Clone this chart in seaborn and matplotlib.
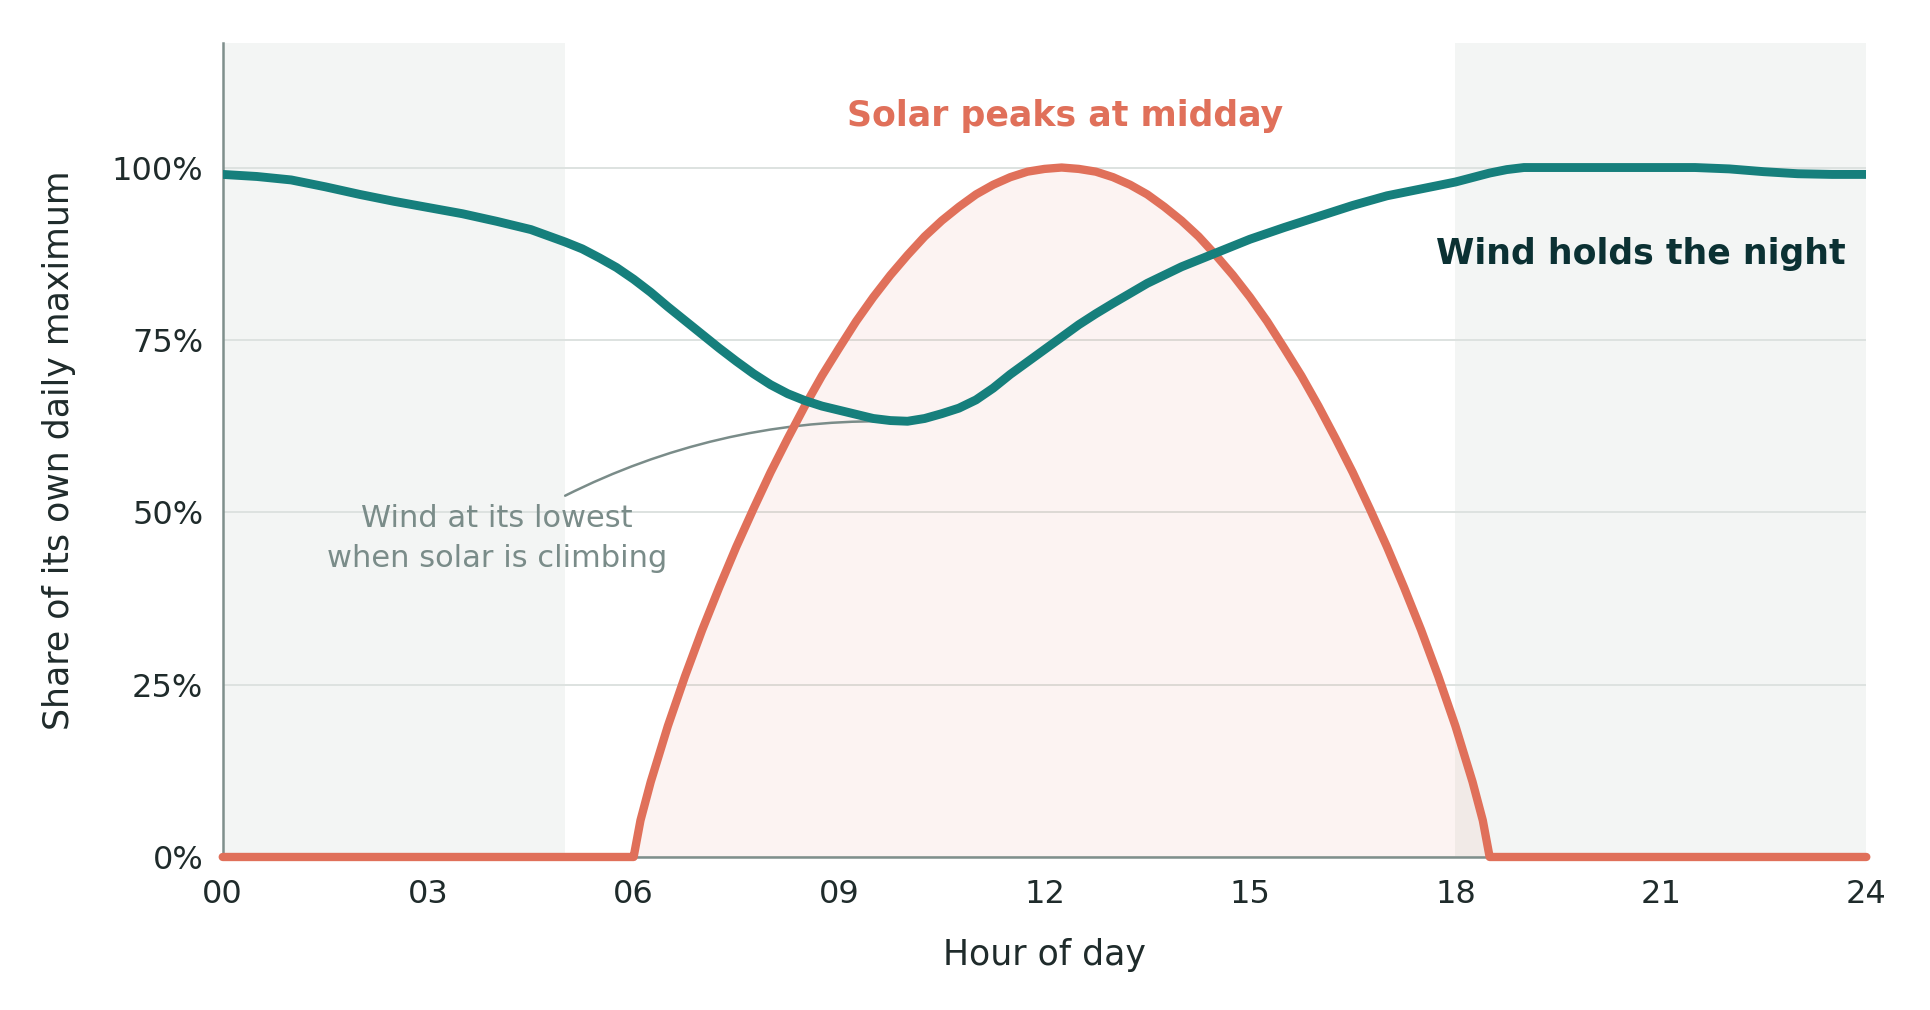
import numpy as np
import pandas as pd
import matplotlib
matplotlib.use("Agg")
import matplotlib.pyplot as plt
import seaborn as sns
from matplotlib.ticker import FixedLocator, FuncFormatter

# hours and values (share of own daily maximum, %)
wind_hours = [0, 0.5, 1, 1.5, 2, 2.5, 3, 3.5, 4, 4.5, 5, 5.25, 5.5, 5.75, 6,
              6.25, 6.5, 6.75, 7, 7.25, 7.5, 7.75, 8, 8.25, 8.5, 8.75, 9, 9.25,
              9.5, 9.75, 10, 10.25, 10.5, 10.75, 11, 11.25, 11.5, 11.75, 12,
              12.25, 12.5, 12.75, 13, 13.5, 14, 14.5, 15, 15.5, 16, 16.5, 17,
              17.5, 18, 18.5, 18.75, 19, 19.5, 20, 20.5, 21, 21.5, 22, 22.5,
              23, 23.5, 24]
wind_share = [99.0, 98.7, 98.2, 97.2, 96.1, 95.1, 94.2, 93.3, 92.2, 91.0, 89.2,
              88.2, 86.9, 85.5, 83.8, 81.9, 79.8, 77.8, 75.8, 73.8, 71.9, 70.1,
              68.5, 67.2, 66.2, 65.4, 64.8, 64.2, 63.6, 63.3, 63.2, 63.6, 64.3,
              65.1, 66.3, 68.0, 70.0, 71.8, 73.6, 75.4, 77.2, 78.8, 80.3, 83.2,
              85.6, 87.6, 89.6, 91.3, 92.9, 94.5, 95.9, 96.9, 97.9, 99.2, 99.7,
              100.0, 100.0, 100.0, 100.0, 100.0, 100.0, 99.8, 99.4, 99.1, 99.0,
              99.0]

solar_hours = [0, 3, 5.95, 6.0, 6.1, 6.25, 6.5, 6.75, 7, 7.25, 7.5, 7.75, 8,
               8.25, 8.5, 8.75, 9, 9.25, 9.5, 9.75, 10, 10.25, 10.5, 10.75, 11,
               11.25, 11.5, 11.75, 12, 12.25, 12.5, 12.75, 13, 13.25, 13.5,
               13.75, 14, 14.25, 14.5, 14.75, 15, 15.25, 15.5, 15.75, 16,
               16.25, 16.5, 16.75, 17, 17.25, 17.5, 17.75, 18, 18.25, 18.4,
               18.5, 18.55, 21, 24]
solar_share = [0, 0, 0, 0, 5.3, 10.9, 19.0, 26.2, 32.9, 39.1, 45.0, 50.5, 55.8,
               60.7, 65.4, 69.8, 73.8, 77.7, 81.2, 84.4, 87.3, 90.0, 92.3, 94.3,
               96.1, 97.5, 98.6, 99.4, 99.8, 100.0, 99.8, 99.4, 98.6, 97.5,
               96.1, 94.3, 92.3, 90.0, 87.3, 84.4, 81.2, 77.7, 73.8, 69.8, 65.4,
               60.7, 55.8, 50.5, 45.0, 39.1, 32.9, 26.2, 19.0, 10.9, 5.3, 0, 0,
               0, 0]

night_spans = [(0, 5), (18, 24)]
hour_ticks = [0, 3, 6, 9, 12, 15, 18, 21, 24]
share_ticks = [0, 25, 50, 75, 100]

WIND = "#167f7c"
SOLAR = "#e0705a"
SHADE = "#f3f5f4"
GRID = "#dde2e0"
SPINE = "#7f8f8c"
INK = "#1f2b2b"
NOTE = "#7a8c89"

sns.set_theme(style="white")
plt.rcParams['font.family'] = ['DejaVu Sans']

wind_df = pd.DataFrame({'hour': wind_hours, 'share': wind_share})
solar_df = pd.DataFrame({'hour': solar_hours, 'share': solar_share})

fig, ax = plt.subplots(figsize=(9.65, 5.05), dpi=200)
fig.subplots_adjust(left=0.1154, right=0.967, bottom=0.1515, top=0.957)

for a, b in night_spans:
    ax.axvspan(a, b, color=SHADE, lw=0, zorder=0)

ax.fill_between(solar_df['hour'], 0, solar_df['share'], color=SOLAR,
                alpha=0.08, lw=0, zorder=1)
sns.lineplot(data=solar_df, x='hour', y='share', ax=ax, color=SOLAR, lw=3.0,
             zorder=3, clip_on=False, solid_capstyle='round',
             solid_joinstyle='round')
sns.lineplot(data=wind_df, x='hour', y='share', ax=ax, color=WIND, lw=3.2,
             zorder=4, solid_capstyle='butt', solid_joinstyle='round')

ax.set_xlim(0, 24)
ax.set_ylim(0, 118)
ax.xaxis.set_major_locator(FixedLocator(hour_ticks))
ax.xaxis.set_major_formatter(FuncFormatter(lambda v, p: f"{int(v):02d}"))
ax.yaxis.set_major_locator(FixedLocator(share_ticks))
ax.yaxis.set_major_formatter(FuncFormatter(lambda v, p: f"{int(v)}%"))

ax.grid(axis='y', color=GRID, lw=0.7, zorder=0.5)
ax.grid(axis='x', visible=False)
ax.set_axisbelow(True)
for side in ['top', 'right']:
    ax.spines[side].set_visible(False)
for side in ['left', 'bottom']:
    ax.spines[side].set_color(SPINE)
    ax.spines[side].set_linewidth(0.9)
    ax.spines[side].set_zorder(2)

ax.tick_params(axis='both', length=0, labelsize=11.5, labelcolor=INK)
ax.tick_params(axis='x', pad=8)
ax.tick_params(axis='y', pad=7)

ax.set_xlabel('Hour of day', fontsize=12.5, color=INK, labelpad=10)
ax.set_ylabel('Share of its own daily maximum', fontsize=12.5, color=INK,
              labelpad=13)

ax.text(12.3, 107.5, 'Solar peaks at midday', color=SOLAR, fontsize=12.5,
        fontweight='bold', ha='center', va='center')
ax.text(20.7, 87.5, 'Wind holds the night', color='#0b3133', fontsize=12.5,
        fontweight='bold', ha='center', va='center')

ax.annotate('', xy=(9.65, 63.2), xytext=(5.0, 52.4),
            arrowprops=dict(arrowstyle='-', color=NOTE, lw=0.9,
                            connectionstyle='arc3,rad=-0.12',
                            shrinkA=0, shrinkB=0), zorder=2)
ax.text(4.0, 46.2, 'Wind at its lowest\nwhen solar is climbing', color=NOTE,
        fontsize=11, ha='center', va='center', multialignment='center',
        linespacing=1.45)

fig.savefig('out.png', dpi=200)
